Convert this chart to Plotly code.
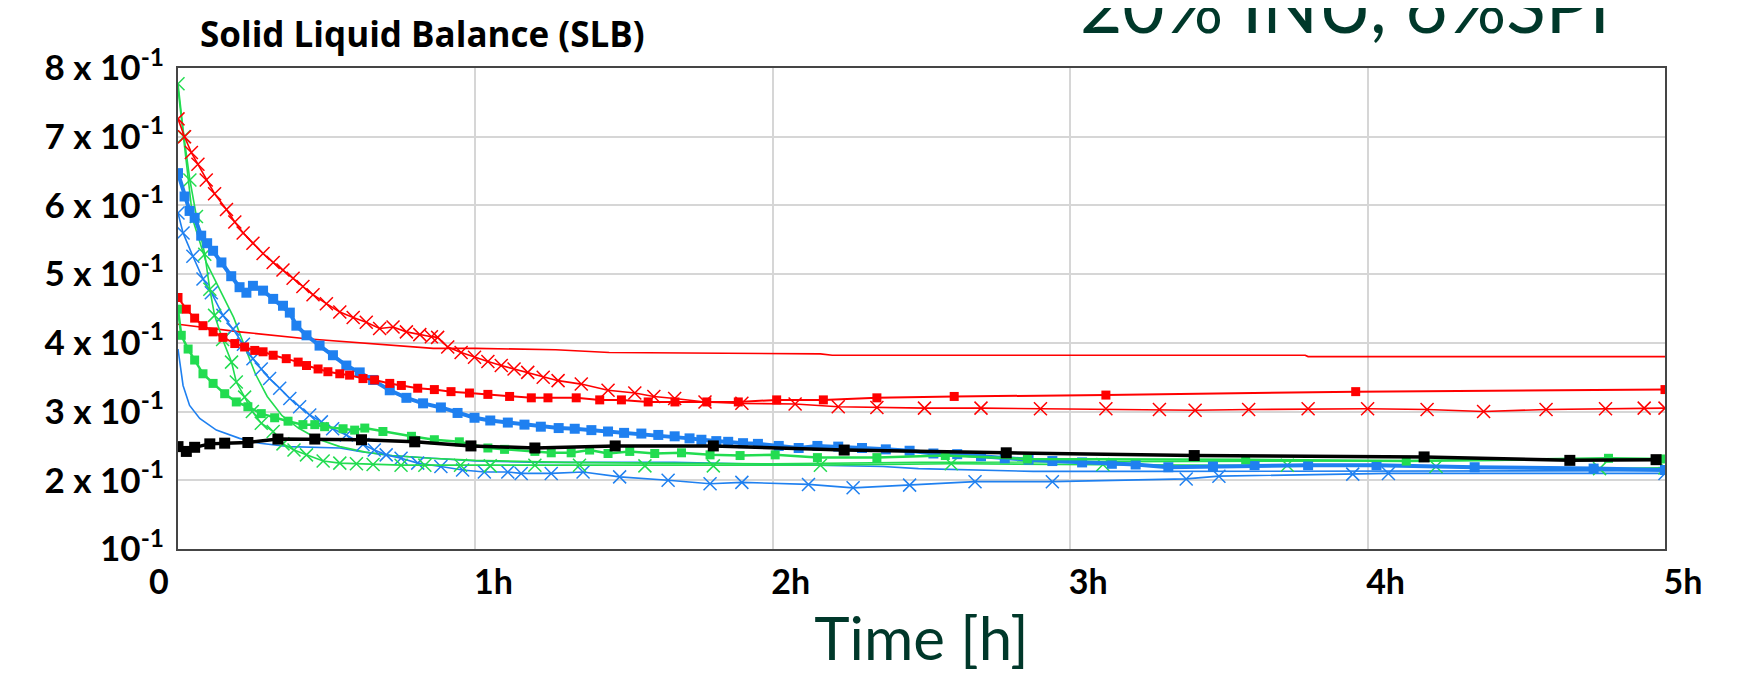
import plotly.graph_objects as go

# ---------------- data (time in hours, SLB value) ----------------
red_x_t = [0, .022, .045, .067, .095, .123, .163, .191, .219, .252, .286, .32, .353, .387, .42, .454, .499, .544, .589, .633, .678, .723, .768, .813, .852, .873, .907, .952, .997, 1.042, 1.087, 1.13, 1.176, 1.228, 1.278, 1.356, 1.446, 1.536, 1.6, 1.67, 1.772, 1.896, 2.075, 2.22, 2.35, 2.51, 2.7, 2.9, 3.12, 3.3, 3.42, 3.6, 3.8, 4.0, 4.2, 4.39, 4.6, 4.8, 4.93, 5.0]
red_x_v = [.726, .70, .677, .66, .637, .617, .594, .576, .56, .545, .53, .517, .506, .494, .482, .47, .457, .445, .437, .43, .421, .423, .416, .412, .409, .408, .394, .386, .379, .373, .367, .362, .357, .35, .345, .34, .331, .327, .322, .319, .314, .312, .311, .307, .306, .305, .305, .304, .304, .303, .302, .303, .304, .304, .303, .300, .303, .304, .305, .305]

red_sq_t = [0, .028, .056, .084, .118, .151, .191, .224, .258, .286, .32, .364, .404, .432, .471, .504, .544, .577, .622, .661, .712, .751, .806, .862, .918, .98, 1.042, 1.115, 1.188, 1.244, 1.339, 1.418, 1.491, 1.581, 1.671, 1.778, 1.884, 2.013, 2.17, 2.35, 2.61, 3.12, 3.96, 5.0]
red_sq_v = [.466, .449, .436, .425, .416, .408, .399, .394, .389, .387, .382, .377, .372, .367, .362, .358, .355, .353, .348, .346, .341, .338, .334, .332, .329, .327, .325, .322, .32, .32, .32, .317, .317, .314, .314, .314, .314, .317, .317, .32, .322, .324, .329, .332]

red_thin_t = [0, .207, .432, .656, .858, 1.0, 1.27, 1.45, 2.16, 2.2, 3.79, 3.8, 5.0]
red_thin_v = [.427, .416, .406, .399, .392, .392, .390, .386, .384, .382, .382, .380, .380]

blue_sq_t = [0, .022, .039, .056, .078, .098, .118, .146, .179, .207, .23, .252, .286, .32, .353, .376, .398, .432, .476, .521, .566, .611, .656, .712, .768, .824, .884, .94, .997, 1.05, 1.109, 1.165, 1.22, 1.28, 1.334, 1.39, 1.446, 1.5, 1.558, 1.615, 1.67, 1.72, 1.76, 1.81, 1.85, 1.9, 1.95, 2.02, 2.087, 2.15, 2.22, 2.3, 2.38, 2.46, 2.54, 2.62, 2.7, 2.78, 2.86, 2.94, 3.04, 3.14, 3.22, 3.33, 3.48, 3.62, 3.8, 4.03, 4.36, 4.76, 5.0]
blue_sq_v = [.647, .613, .592, .582, .556, .545, .534, .517, .497, .481, .473, .483, .476, .464, .454, .444, .425, .411, .396, .382, .367, .357, .346, .331, .32, .312, .306, .298, .291, .287, .284, .281, .278, .276, .275, .273, .271, .269, .268, .266, .264, .261, .259, .257, .256, .254, .253, .25, .247, .25, .249, .247, .245, .243, .239, .238, .235, .232, .23, .228, .226, .224, .223, .219, .22, .222, .222, .222, .219, .217, .215]

black_t = [0, .028, .056, .107, .157, .235, .336, .46, .617, .796, .985, 1.2, 1.47, 1.8, 2.24, 2.785, 3.417, 4.19, 4.68, 4.97]
black_v = [.249, .242, .248, .253, .254, .255, .26, .26, .259, .256, .25, .247, .25, .25, .244, .24, .236, .234, .229, .23]

green_sq_t = [0, .011, .034, .056, .084, .118, .157, .196, .235, .28, .325, .37, .42, .46, .493, .555, .594, .628, .689, .785, .862, .946, 1.042, 1.098, 1.2, 1.255, 1.322, 1.384, 1.446, 1.519, 1.603, 1.693, 1.789, 1.89, 2.008, 2.15, 2.35, 2.58, 2.856, 3.59, 4.13, 4.81, 5.0]
green_sq_v = [.449, .411, .391, .375, .355, .341, .326, .314, .307, .297, .291, .286, .281, .281, .278, .275, .273, .276, .271, .264, .259, .256, .247, .245, .242, .24, .24, .244, .239, .242, .239, .24, .237, .236, .237, .233, .233, .236, .231, .23, .228, .232, .231]

green_x_t = [0, .02, .04, .062, .09, .107, .123, .15, .18, .196, .224, .25, .28, .32, .353, .39, .432, .488, .544, .6, .656, .75, .83, .95, 1.05, 1.2, 1.35, 1.57, 1.8, 2.16, 2.6, 3.11, 3.73, 4.23, 4.78, 5.0]
green_x_v = [.777, .70, .637, .584, .529, .478, .44, .405, .372, .343, .321, .30, .283, .271, .253, .244, .237, .228, .225, .224, .223, .222, .222, .222, .221, .222, .222, .221, .221, .222, .224, .223, .222, .22, .217, .218]

green_thin_t = [0, .028, .05, .095, .151, .187, .225, .26, .30, .35, .405, .47, .544, .63, .72, .85, 1.0, 1.3, 1.6, 2.0, 2.5, 3.0, 3.5, 4.0, 4.5, 5.0]
green_thin_v = [.77, .661, .579, .517, .469, .437, .394, .355, .322, .294, .276, .26, .249, .241, .236, .232, .229, .226, .225, .224, .226, .227, .228, .229, .23, .23]

blue_x_t = [0, .017, .05, .084, .112, .151, .185, .22, .252, .28, .308, .342, .376, .409, .443, .482, .52, .566, .622, .66, .70, .75, .806, .884, .957, 1.03, 1.109, 1.154, 1.255, 1.362, 1.485, 1.648, 1.789, 1.896, 2.12, 2.27, 2.46, 2.68, 2.94, 3.39, 3.5, 3.95, 4.07, 5.0]
blue_x_v = [.589, .56, .526, .493, .473, .44, .42, .398, .377, .362, .348, .334, .319, .307, .295, .285, .275, .266, .252, .244, .237, .232, .225, .22, .215, .212, .212, .21, .21, .212, .205, .20, .195, .197, .194, .189, .193, .198, .198, .202, .206, .209, .21, .21]

blue_thin_t = [0, .017, .039, .073, .129, .207, .275, .376, .544, .611, .712, .858, 1.0, 1.22, 1.67, 1.9, 2.37, 2.49, 2.875, 3.27, 4.0, 5.0]
blue_thin_v = [.391, .338, .309, .29, .273, .261, .254, .249, .247, .242, .236, .232, .228, .226, .226, .224, .22, .217, .213, .213, .213, .214]

y_tick_vals = [0.1, 0.2, 0.3, 0.4, 0.5, 0.6, 0.7, 0.8]
y_tick_text = ["10<sup>-1</sup>", "2 x 10<sup>-1</sup>", "3 x 10<sup>-1</sup>", "4 x 10<sup>-1</sup>",
               "5 x 10<sup>-1</sup>", "6 x 10<sup>-1</sup>", "7 x 10<sup>-1</sup>", "8 x 10<sup>-1</sup>"]
x_tick_vals = [0, 1, 2, 3, 4, 5]
x_tick_text = ["0" + "\u00a0" * 9, "1h", "2h", "3h", "4h", "5h"]

RED = "#FF0000"
BLUE = "#1F80F0"
GREEN = "#22DC50"
BLACK = "#000000"

fig = go.Figure()

def thin(t, v, c):
    fig.add_trace(go.Scatter(x=t, y=v, mode="lines", line=dict(color=c, width=1.6), showlegend=False))

def xs(t, v, c):
    fig.add_trace(go.Scatter(x=t, y=v, mode="lines+markers", line=dict(color=c, width=1.6),
                             marker=dict(symbol="x-thin", size=13, line=dict(color=c, width=1.5)),
                             showlegend=False))

def sq(t, v, c, lw, ms):
    fig.add_trace(go.Scatter(x=t, y=v, mode="lines+markers", line=dict(color=c, width=lw),
                             marker=dict(symbol="square", size=ms, color=c), showlegend=False))

thin(blue_thin_t, blue_thin_v, BLUE)
thin(green_thin_t, green_thin_v, GREEN)
thin(red_thin_t, red_thin_v, RED)
xs(blue_x_t, blue_x_v, BLUE)
xs(green_x_t, green_x_v, GREEN)
xs(red_x_t, red_x_v, RED)
sq(blue_sq_t, blue_sq_v, BLUE, 4, 10)
sq(green_sq_t, green_sq_v, GREEN, 2.5, 9)
sq(red_sq_t, red_sq_v, RED, 2, 9)
sq(black_t, black_v, BLACK, 3.5, 11)

fig.update_layout(
    width=1737, height=675,
    margin=dict(l=170, r=80, t=60, b=134),
    paper_bgcolor="white", plot_bgcolor="white",
    title=dict(text="Solid Liquid Balance (SLB)", x=192 / 1737, xanchor="left",
               xref="container", yref="container", y=0.978, yanchor="top",
               font=dict(family="Open Sans", size=35, color="black", weight="bold")),
    xaxis=dict(range=[0, 5], tickvals=x_tick_vals, ticktext=x_tick_text,
               showgrid=True, gridcolor="#D6D6D6", gridwidth=2,
               showline=True, linecolor="#454545", linewidth=2, mirror=True,
               zeroline=False, ticks="", ticklabelshift=18, ticklabelstandoff=2,
               tickfont=dict(family="Lato", size=34, color="black", weight="bold"),
               title=dict(text="Time [h]", standoff=18,
                          font=dict(family="Lato", size=60, color="#00382A"))),
    yaxis=dict(range=[0.1, 0.8], tickvals=y_tick_vals, ticktext=y_tick_text,
               showgrid=True, gridcolor="#D6D6D6", gridwidth=2,
               showline=True, linecolor="#454545", linewidth=2, mirror=True,
               zeroline=False, ticks="", ticklabelstandoff=5,
               tickfont=dict(family="Lato", size=35, color="black", weight="bold")),
    annotations=[dict(text="20% INU, 6%SPI", xref="paper", yref="paper",
                      x=0.785, y=1.13, xanchor="center", yanchor="middle", showarrow=False,
                      font=dict(family="Lato", size=73, color="#00382A"))],
)

fig.write_html("out.html")
